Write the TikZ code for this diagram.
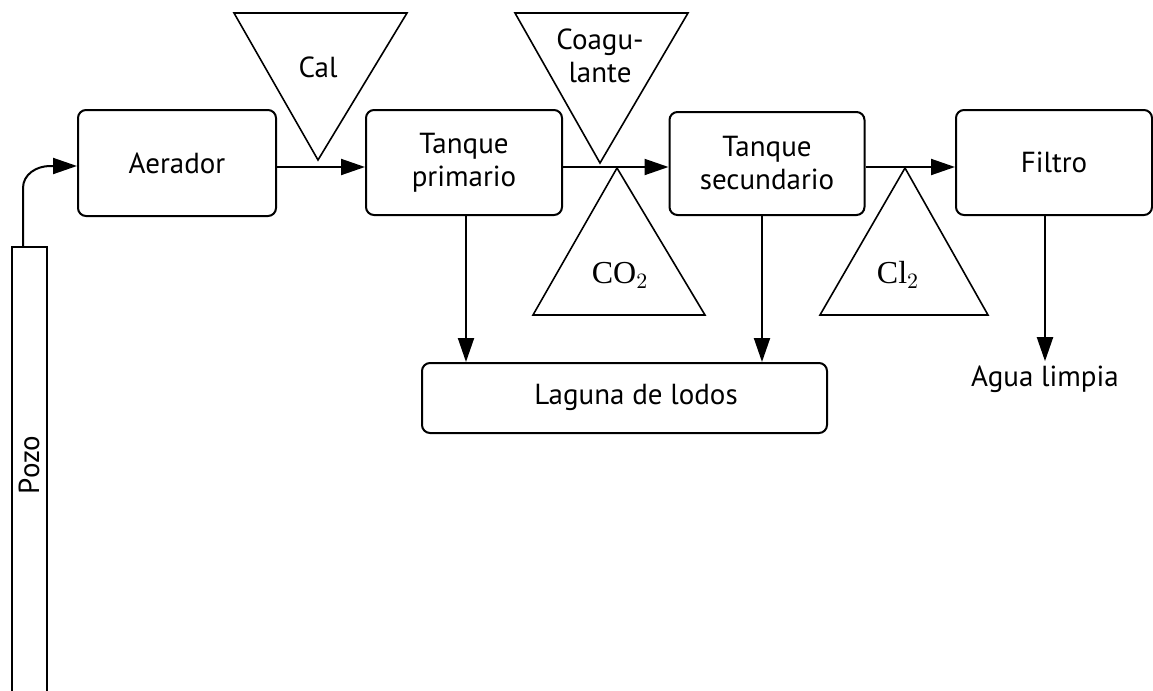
\documentclass[tikz,border=0pt]{standalone}
\usepackage{fontspec}
\setmainfont{PT Sans}
\newfontfamily\chemfont{Liberation Serif}
\usetikzlibrary{arrows.meta,calc}
\begin{document}
\begin{tikzpicture}[x=0.5pt,y=-0.5pt,
  box/.style={draw,line width=1pt,rounded corners=4pt,inner sep=0pt,align=center,font=\fontsize{14.5}{16.5}\selectfont},
  feed/.style={draw,line width=0.8pt},
  lbl/.style={inner sep=0pt,align=center,font=\fontsize{14.5}{16.5}\selectfont},
  chem/.style={inner sep=0pt,font=\chemfont\fontsize{16}{18}\selectfont},
  flow/.style={draw,line width=1pt,-{Triangle[length=12pt,width=8pt]}}]
\useasboundingbox (0,0) rectangle (1153,691);

% process units
\node[box,minimum width=99pt,minimum height=53pt] (aer) at (177,163) {Aerador};
\node[box,minimum width=98pt,minimum height=52.5pt] (prim) at (464,162.5) {Tanque\\primario};
\node[box,minimum width=97.5pt,minimum height=51.5pt] (sec) at (767,163.5) {Tanque\\secundario};
\node[box,minimum width=98pt,minimum height=52.5pt] (fil) at (1054,162.5) {Filtro};
\node[box,minimum width=202.5pt,minimum height=35pt] (lag) at (624.5,398) {};
\node[lbl] at (636,397) {Laguna de lodos};

% well
\node[draw,line width=1pt,minimum width=17.5pt,minimum height=230pt,inner sep=0pt] (pozo) at (29.5,477) {};
\node[lbl,rotate=90] at (29,465) {Pozo};

% chemical dosing triangles
\draw[feed] (234,13) coordinate (calA) -- (407,13) -- (318,160) coordinate (calT) -- cycle;
\node[lbl] (cal) at (318,67) {Cal};
\draw[feed] (515,13) -- (688,13) -- (600,163) coordinate (coaT) -- cycle;
\node[lbl] (coa) at (600,56) {Coagu-\\lante};
\draw[feed] (617,168) coordinate (co2T) -- (705,315) -- (533,315) -- cycle;
\node[chem] (co2) at (620,275) {CO$_2$};
\draw[feed] (905,168) coordinate (cl2T) -- (988,315) -- (820,315) -- cycle;
\node[chem] (cl2) at (898,275) {Cl$_2$};

% flow path
\coordinate (pipe) at (23,247);
\draw[flow] (pipe) -- (23,188) to[out=90,in=180] (50,166) -- (aer.west |- 0,166);
\draw[flow] (aer.east |- 0,167) -- (prim.west |- 0,167);
\draw[flow] (prim.east |- 0,167) -- (sec.west |- 0,167);
\draw[flow] (sec.east |- 0,167) -- (fil.west |- 0,167);

% sludge and product lines
\draw[flow] (prim.south -| 466,0) -- (lag.north -| 466,0);
\draw[flow] (sec.south -| 762,0) -- (lag.north -| 762,0);
\node[lbl] (agua) at (1045,379) {Agua limpia};
\draw[flow,shorten >=2pt] (fil.south -| 1045,0) -- (agua.north);
\end{tikzpicture}
\end{document}
